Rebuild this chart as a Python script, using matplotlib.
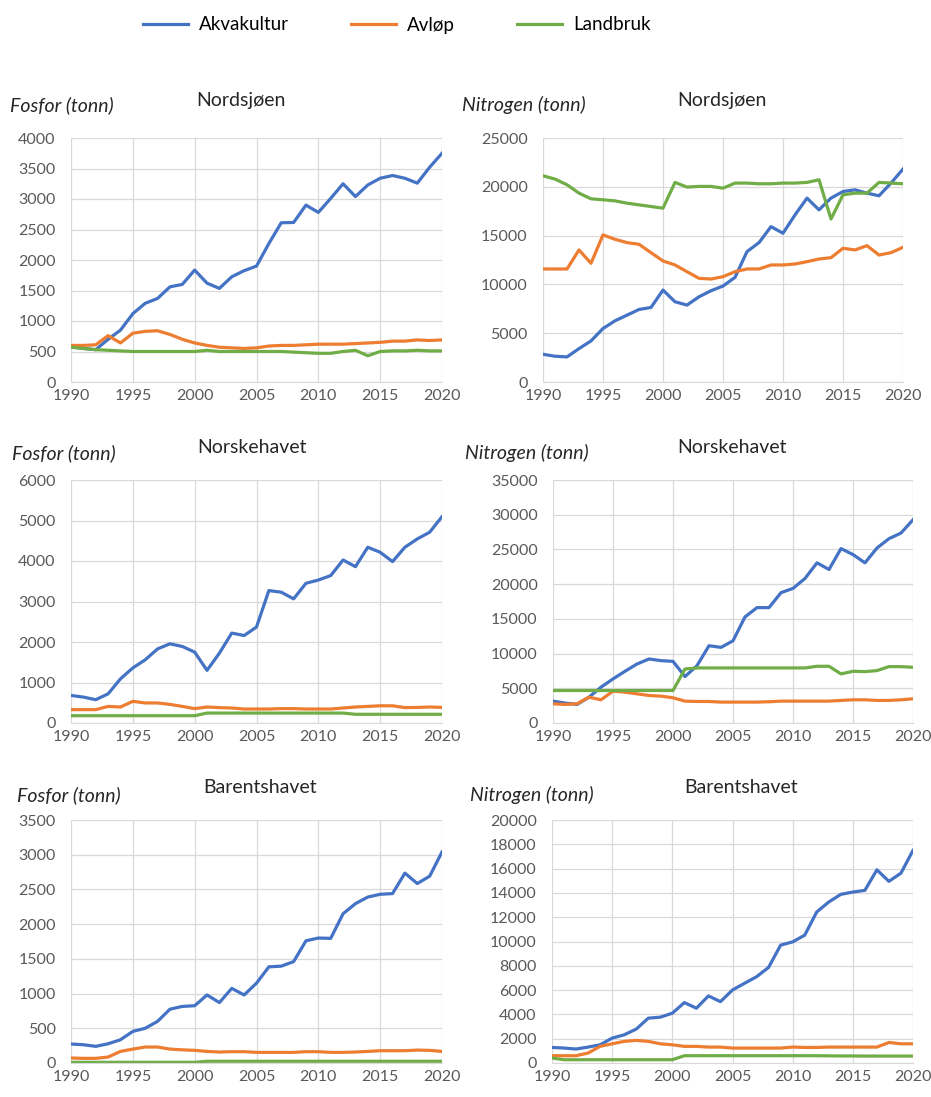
import numpy as np
import matplotlib
matplotlib.use("Agg")
import matplotlib.pyplot as plt
from matplotlib.lines import Line2D

plt.rcParams['font.family'] = ['Lato', 'DejaVu Sans']

years = np.arange(1990, 2021)
series_names = ['Akvakultur', 'Avløp', 'Landbruk']
colors = ['#4472C4', '#ED7D31', '#70AD47']

# Fosfor, Nordsjøen
p_nord_akva = [580, 550, 530, 700, 850, 1120, 1290, 1370, 1560, 1600, 1835, 1620, 1535, 1725, 1825, 1900,
               2270, 2610, 2615, 2900, 2780, 3010, 3250, 3040, 3230, 3340, 3385, 3340, 3260, 3520, 3750]
p_nord_avlop = [600, 600, 610, 760, 640, 800, 830, 840, 780, 700, 640, 600, 570, 560, 550, 560,
                590, 600, 600, 610, 620, 620, 620, 630, 640, 650, 670, 670, 690, 680, 690]
p_nord_land = [570, 550, 530, 520, 510, 500, 500, 500, 500, 500, 500, 520, 500, 500, 500, 500,
               500, 500, 490, 480, 470, 470, 500, 520, 430, 500, 510, 510, 520, 510, 510]

# Nitrogen, Nordsjøen
n_nord_akva = [2840, 2640, 2570, 3420, 4210, 5480, 6270, 6850, 7430, 7640, 9420, 8220, 7880, 8730, 9350, 9830,
               10720, 13360, 14280, 15920, 15240, 17120, 18840, 17640, 18840, 19520, 19690, 19350, 19080, 20380, 21820]
n_nord_avlop = [11580, 11580, 11580, 13530, 12160, 15070, 14620, 14280, 14110, 13250, 12400, 11990, 11300, 10620,
                10550, 10790, 11300, 11580, 11580, 11990, 11990, 12090, 12330, 12600, 12740, 13700, 13530, 13970,
                13010, 13250, 13800]
n_nord_land = [21130, 20790, 20210, 19350, 18770, 18670, 18560, 18320, 18150, 17980, 17810, 20450, 19970, 20040,
               20040, 19860, 20380, 20380, 20310, 20310, 20380, 20380, 20450, 20720, 16700, 19180, 19350, 19350,
               20450, 20380, 20310]

# Fosfor, Norskehavet
p_norsk_akva = [680, 640, 575, 720, 1090, 1360, 1560, 1830, 1955, 1890, 1750, 1300, 1725, 2220, 2160, 2370,
                3270, 3230, 3065, 3450, 3530, 3640, 4025, 3860, 4340, 4215, 3985, 4340, 4545, 4710, 5095]
p_norsk_avlop = [330, 330, 330, 410, 395, 535, 495, 495, 460, 410, 355, 395, 380, 370, 345, 345,
                 345, 355, 355, 345, 345, 345, 370, 395, 410, 425, 425, 380, 385, 395, 385]
p_norsk_land = [180, 180, 180, 180, 180, 180, 180, 180, 180, 180, 180, 245, 245, 245, 245, 245,
                245, 245, 245, 245, 245, 245, 245, 215, 215, 215, 215, 215, 215, 215, 215]

# Nitrogen, Norskehavet
n_norsk_akva = [3150, 2870, 2670, 3720, 5160, 6350, 7450, 8500, 9220, 8980, 8880, 6690, 8260, 11130, 10890, 11840,
                15280, 16620, 16620, 18770, 19390, 20820, 23070, 22110, 25120, 24260, 23070, 25210, 26550, 27360, 29270]
n_norsk_avlop = [2770, 2670, 2770, 3720, 3340, 4580, 4440, 4200, 3960, 3870, 3630, 3150, 3100, 3100, 3010, 3010,
                 3010, 3010, 3060, 3150, 3150, 3150, 3150, 3150, 3250, 3340, 3340, 3250, 3250, 3340, 3490]
n_norsk_land = [4680, 4680, 4680, 4680, 4680, 4680, 4680, 4680, 4680, 4680, 4680, 7780, 7930, 7930, 7930, 7930,
                7930, 7930, 7930, 7930, 7930, 7930, 8170, 8170, 7070, 7450, 7400, 7550, 8120, 8120, 8020]

# Fosfor, Barentshavet
p_bar_akva = [273, 263, 240, 277, 335, 455, 500, 600, 775, 815, 825, 980, 870, 1075, 980, 1150,
              1385, 1395, 1460, 1760, 1800, 1795, 2150, 2295, 2390, 2430, 2440, 2735, 2585, 2690, 3040]
p_bar_avlop = [72, 67, 67, 86, 167, 200, 230, 230, 200, 190, 182, 167, 158, 163, 163, 153,
               153, 153, 153, 163, 163, 153, 153, 158, 167, 177, 177, 177, 186, 182, 167]
p_bar_land = [10, 10, 10, 10, 10, 10, 10, 10, 10, 10, 10, 25, 25, 25, 25, 25,
              25, 25, 25, 25, 25, 25, 25, 25, 25, 25, 25, 25, 25, 25, 25]

# Nitrogen, Barentshavet
n_bar_akva = [1280, 1230, 1150, 1310, 1500, 2050, 2320, 2790, 3690, 3770, 4100, 4970, 4510, 5520, 5050, 6010,
              6560, 7100, 7870, 9700, 9970, 10520, 12430, 13250, 13880, 14070, 14210, 15900, 14950, 15630, 17500]
n_bar_avlop = [600, 600, 600, 820, 1370, 1580, 1780, 1860, 1780, 1580, 1500, 1370, 1370, 1310, 1310, 1230,
               1230, 1230, 1230, 1230, 1310, 1280, 1280, 1310, 1310, 1310, 1310, 1310, 1690, 1580, 1580]
n_bar_land = [410, 270, 270, 270, 270, 270, 270, 270, 270, 270, 270, 600, 600, 600, 600, 600,
              600, 600, 600, 600, 600, 600, 600, 590, 580, 580, 570, 570, 570, 570, 570]

panels = [
    ('Fosfor (tonn)', 'Nordsjøen', [p_nord_akva, p_nord_avlop, p_nord_land], 4000, 500),
    ('Nitrogen (tonn)', 'Nordsjøen', [n_nord_akva, n_nord_avlop, n_nord_land], 25000, 5000),
    ('Fosfor (tonn)', 'Norskehavet', [p_norsk_akva, p_norsk_avlop, p_norsk_land], 6000, 1000),
    ('Nitrogen (tonn)', 'Norskehavet', [n_norsk_akva, n_norsk_avlop, n_norsk_land], 35000, 5000),
    ('Fosfor (tonn)', 'Barentshavet', [p_bar_akva, p_bar_avlop, p_bar_land], 3500, 500),
    ('Nitrogen (tonn)', 'Barentshavet', [n_bar_akva, n_bar_avlop, n_bar_land], 20000, 2000),
]

# axes boxes in pixels (left, right, top, bottom), plus label/title placement in axes fractions
W, H = 931, 1097
boxes = [(71, 442, 138, 382), (543, 903, 138, 382),
         (71, 442, 480, 723), (553, 913, 480, 723),
         (71, 442, 820, 1063), (552, 913, 820, 1063)]
label_x = [-0.164, -0.225, -0.159, -0.244, -0.146, -0.227]
label_y = [1.135, 1.135, 1.111, 1.111, 1.103, 1.103]
title_x = [0.458, 0.497, 0.488, 0.497, 0.51, 0.523]
title_y = [1.152, 1.152, 1.132, 1.132, 1.132, 1.132]

fig = plt.figure(figsize=(W / 100, H / 100), dpi=100)

for i, (ylab, title, data, ymax, step) in enumerate(panels):
    l, r, t, b = boxes[i]
    ax = fig.add_axes([l / W, 1 - b / H, (r - l) / W, (b - t) / H])
    for vals, c in zip(data, colors):
        ax.plot(years, vals, color=c, lw=2.3, solid_joinstyle='round')
    ax.set_xlim(1990, 2020)
    ax.set_ylim(0, ymax)
    ax.set_xticks(np.arange(1990, 2021, 5))
    ax.set_yticks(np.arange(0, ymax + 1, step))
    ax.grid(True, color='#D9D9D9', lw=0.9)
    ax.set_axisbelow(True)
    for s in ['top', 'right', 'left']:
        ax.spines[s].set_visible(False)
    ax.spines['bottom'].set_color('#D9D9D9')
    ax.tick_params(length=0, labelsize=11.5, labelcolor='#595959')
    ax.tick_params(axis='y', pad=11)
    ax.tick_params(axis='x', pad=5)
    ax.text(label_x[i], label_y[i], ylab, transform=ax.transAxes, fontsize=14, style='italic',
            color='#262626', ha='left', va='center')
    ax.text(title_x[i], title_y[i], title, transform=ax.transAxes, fontsize=14,
            color='#262626', ha='center', va='center')

handles = [Line2D([], [], color=c, lw=2.3) for c in colors]
fig.legend(handles, series_names, loc='center', bbox_to_anchor=(397 / W, 1 - 25 / H), ncol=3,
           frameon=False, fontsize=13.5, handlelength=2.4, columnspacing=3.3, handletextpad=0.6)

fig.savefig('out.png', dpi=100)
